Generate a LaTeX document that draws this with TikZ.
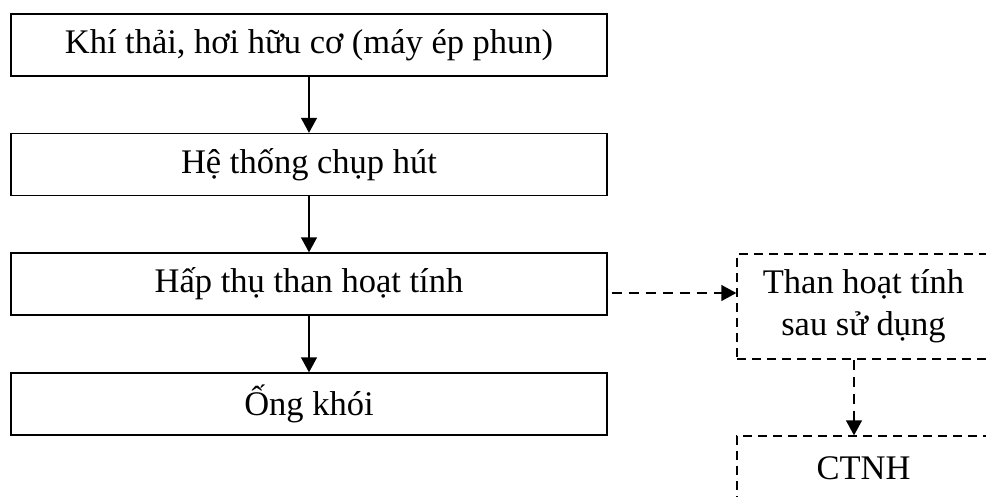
\documentclass[tikz,border=0pt]{standalone}
\usepackage{fontspec}
\setmainfont{Liberation Serif}
\usetikzlibrary{arrows.meta}
\begin{document}
\begin{tikzpicture}[x=1pt,y=-1pt,
  box/.style={draw, line width=1.4pt, minimum width=596pt, minimum height=62pt, inner sep=0pt,
    font=\fontsize{34.5}{42}\selectfont},
  dbox/.style={draw, line width=1.4pt, dash pattern=on 9pt off 6pt, minimum width=253pt, inner sep=0pt,
    align=center, font=\fontsize{34.5}{42}\selectfont},
  arr/.style={line width=1.4pt, -{Triangle[length=15pt,width=16pt]}},
  darr/.style={line width=1.4pt, dash pattern=on 10pt off 7pt, -{Triangle[length=15pt,width=16pt]}}]
\useasboundingbox (0,0) rectangle (986,496);
\clip (0,0) rectangle (986,496);
\node[box] (b1) at (309,45) {Khí thải, hơi hữu cơ (máy ép phun)};
\node[box] (b2) at (309,164.5) {Hệ thống chụp hút};
\node[box] (b3) at (309,284) {Hấp thụ than hoạt tính};
\node[box] (b4) at (309,404) {Ống khói};
\node[dbox, minimum height=105pt] (r1) at (863.5,306.5) {\raisebox{-3pt}{Than hoạt tính}\\\raisebox{-3pt}{sau sử dụng}};
\node[dbox, minimum height=64pt] (r2) at (863.5,468) {CTNH};
\draw[arr] (b1) -- (b2);
\draw[arr] (b2) -- (b3);
\draw[arr] (b3) -- (b4);
\draw[darr] ([shift={(4pt,-9pt)}]b3.east) -- ([yshift=-9pt]b3.east -| r1.west);
\draw[darr] ([xshift=-9.5pt]r1.south) -- ([xshift=-9.5pt]r1.south |- r2.north);
\end{tikzpicture}
\end{document}
